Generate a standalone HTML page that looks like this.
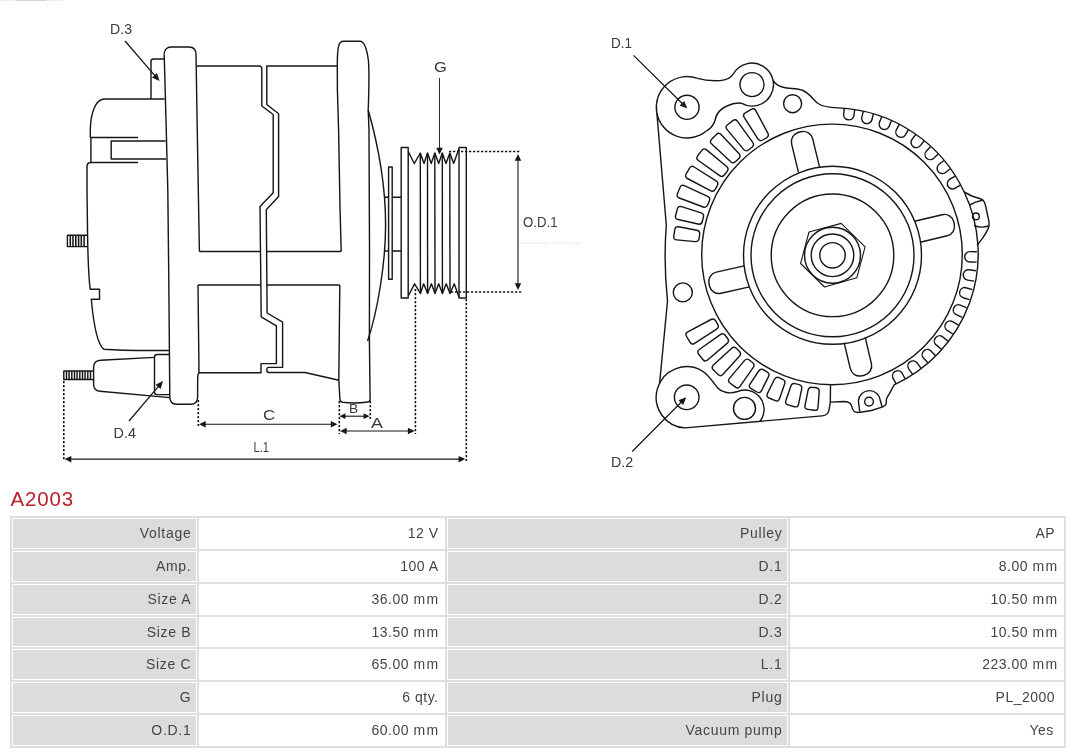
<!DOCTYPE html>
<html><head><meta charset="utf-8"><title>A2003</title>
<style>
html,body{margin:0;padding:0;background:#fff;}
body{width:1080px;height:753px;position:relative;overflow:hidden;font-family:"Liberation Sans",sans-serif;}
.w{position:absolute;left:0;top:0;width:1080px;height:753px;will-change:transform;}
svg{position:absolute;left:0;top:0;}
svg path,svg circle{fill:none;stroke:#161616;stroke-width:1.42;stroke-linejoin:round;stroke-linecap:butt;}
svg path.ah{fill:#161616;stroke:none;}
svg text{font-family:"Liberation Sans",sans-serif;fill:#3a3a3a;stroke:none;}
h1{position:absolute;left:10.5px;top:487px;margin:0;font-size:20.5px;line-height:24px;font-weight:normal;color:#b7202b;letter-spacing:.85px;}
.tb{position:absolute;left:10px;top:516px;width:1056px;height:232px;border:1px solid #dfdfdf;box-sizing:border-box;}
.c{position:absolute;box-sizing:border-box;border:1px solid #dfdfdf;font-size:14px;color:#454545;text-align:right;white-space:nowrap;overflow:hidden;}
.l{background:#dcdcdc;box-shadow:inset 0 0 0 1px #fff;padding-right:5.6px;letter-spacing:.7px;}
.v{background:#fff;padding-right:6.5px;letter-spacing:.5px;}
.u{letter-spacing:1.4px;margin-right:-1.1px;}
</style></head>
<body>
<div class="w">
<svg width="1080" height="480" viewBox="0 0 1080 480">
<path d="M0 0.4 H64" style="stroke:#d6d6d6;stroke-width:1;stroke-dasharray:1 1.4"/>
<path d="M16 0.4 H47" style="stroke:#d0d0d0;stroke-width:1"/>
<g id="left">
<path d="M164.3 59 H153.5 Q151 59 151 61.5 V99"/>
<path d="M164.2 54.5 C164.2 50 167 47 171 47 H189 C193.5 47 196 50 196 54.5 L197.6 150 L199.4 251.5"/>
<path d="M164.2 54.5 L166 120 L167.8 190 L168.8 280 L169.4 350 L169.8 397 Q170 404.2 176.5 404.2 H190.5 Q197.4 404.2 197.6 397.5 L197.7 378 Q197.7 374 199 373 L198 285"/>
<path d="M164.6 99 H104 C96 99.5 90.6 112 90.3 130 V137.5"/>
<path d="M90.3 137.5 H138"/>
<path d="M90.9 137.5 V162.5"/>
<path d="M138 162.5 H90.5 Q87 162.7 87 166.5 L87 190 L87.6 236 C88 262 89 280 90.2 289.2 H99.5 V299.2 H91.3 C93 318 96.5 344 104 349.3 C125 351 150 350.6 169.3 350.5"/>
<path d="M165.6 141 H111.2 V159 H166"/>
<path d="M87.3 235.2 H67.4 V246.6 H87.5"/>
<path d="M70.3 235.2 V246.6" style="stroke-width:1.55"/>
<path d="M73 235.2 V246.6" style="stroke-width:1.55"/>
<path d="M75.8 235.2 V246.6" style="stroke-width:1.55"/>
<path d="M78.6 235.2 V246.6" style="stroke-width:1.55"/>
<path d="M81.3 235.2 V246.6" style="stroke-width:1.55"/>
<path d="M84.1 235.2 V246.6" style="stroke-width:1.55"/>
<path d="M154.5 357.4 L100.5 360.3 Q93.6 360.8 93.6 367.5 V384.5 Q93.6 390.6 100 391.2 L169.8 397.6"/>
<path d="M169.5 354.5 H157 Q154.5 354.5 154.5 357 V392 Q154.5 394.6 157 394.6 H169.8"/>
<path d="M94 371 H63.8 V379.5 H94"/>
<path d="M66.5 371 V379.5" style="stroke-width:1.45"/>
<path d="M69.1 371 V379.5" style="stroke-width:1.45"/>
<path d="M71.8 371 V379.5" style="stroke-width:1.45"/>
<path d="M74.5 371 V379.5" style="stroke-width:1.45"/>
<path d="M77.1 371 V379.5" style="stroke-width:1.45"/>
<path d="M79.8 371 V379.5" style="stroke-width:1.45"/>
<path d="M82.5 371 V379.5" style="stroke-width:1.45"/>
<path d="M85.1 371 V379.5" style="stroke-width:1.45"/>
<path d="M87.8 371 V379.5" style="stroke-width:1.45"/>
<path d="M90.5 371 V379.5" style="stroke-width:1.45"/>
<path d="M196.3 66 H259 Q261.8 66 261.8 69 V106 L273.2 114.5 V192.8 L260 206.5 L261.2 316.8 L276.4 325.8 V363.6 H261 V372.8 H198.8"/>
<path d="M337.4 66 H266.8 V104.5 L278.6 113.8 V196.6 L266.3 209.8 L267.1 313 L282.6 322.2 V367.4 H268.5 Q266.8 367.6 266.8 370 Q266.8 372.5 268.8 372.5 H305 L339 380.2"/>
<path d="M199.4 251.5 H260.6 M267 251.5 H341.2"/>
<path d="M198 285 H260.9 M267 285 H339.8"/>
<path d="M341.2 251.5 L340 207 L338.6 130 L337.4 90 L337.3 66 C337.3 55 338 48 338.8 45.5 Q339.8 41.3 343.5 41.3 H360 C364.5 41.3 367 50 368.4 60.5 C369 68 369 90 368.2 110 L369 130 L369.5 250 L369.4 340 L370.1 399 Q370.2 401.6 367.5 402 C359 403.2 350 403.2 342.5 402.2 Q340 401.8 339.9 399 L338.8 380 L339.8 285"/>
<path d="M368.2 110 C379 148 385.6 190 385.6 225 C385.6 262 378 310 367.6 341"/>
<path d="M388.6 167 H392.2 V279.3 H388.6 Z"/>
<path d="M384.4 197.3 H388.6 M392.2 197.3 H401.2 M384.4 251 H388.6 M392.2 251 H401.2"/>
<path d="M408.2 151.5 V147.5 H401.2 V298 H408.2 V296"/>
<path d="M459 148.5 V147.5 H466.3 V298 H459 V297"/>
<path d="M408.2 151.5 L414.3 163.5 L420.3 153 L424 163.5 L427.5 153 L431.2 163.5 L434.8 153 L438.7 163.5 L442.3 153 L446 163.5 L449.8 153 L453.7 163.5 L459 148.5"/>
<path d="M408.2 296 L414.6 283.8 L420.4 293.5 L423.7 283.8 L427.6 293.5 L431.4 283.8 L435 293.5 L438.7 283.8 L442.4 293.5 L446.2 283.8 L450 293.5 L454.2 283.8 L459 297"/>
<path d="M420.3 153 L420.4 293.5"/>
<path d="M427.5 153 L427.6 293.5"/>
<path d="M434.8 153 L435 293.5"/>
<path d="M442.3 153 L442.4 293.5"/>
<path d="M449.8 153 L450 293.5"/>
<path d="M408.2 151.5 V296 M459 148.5 V297"/>
<path d="M449 151.5 L520.5 151.5" style="stroke-width:1.6;stroke-dasharray:2.25 1.75"/>
<path d="M451 292 L522 292" style="stroke-width:1.6;stroke-dasharray:2.25 1.75"/>
<path d="M518 154 L521.2 160.7 L514.8 160.7 Z" class="ah"/>
<path d="M518 159.4 L518 284.6" style="stroke-width:1.1"/>
<path d="M518 290 L514.8 283.3 L521.2 283.3 Z" class="ah"/>
<path d="M519.5 243.2 L580 243.2" style="stroke-width:1;stroke-dasharray:1 1.7;stroke:#c9c9c9"/>
<path d="M415.4 289 L415.4 434" style="stroke-width:1.6;stroke-dasharray:2.25 1.75"/>
<path d="M466.3 299 L466.3 461" style="stroke-width:1.6;stroke-dasharray:2.25 1.75"/>
<path d="M63.8 381 L63.8 461" style="stroke-width:1.6;stroke-dasharray:2.25 1.75"/>
<path d="M198.3 400 L198.3 426" style="stroke-width:1.6;stroke-dasharray:2.25 1.75"/>
<path d="M339.3 401 L339.3 434" style="stroke-width:1.6;stroke-dasharray:2.25 1.75"/>
<path d="M370.3 401 L370.3 419" style="stroke-width:1.6;stroke-dasharray:2.25 1.75"/>
<path d="M199 424.2 L205.7 420.9 L205.7 427.4 Z" class="ah"/>
<path d="M204.4 424.2 L332.1 424.2" style="stroke-width:1.1"/>
<path d="M337.5 424.2 L330.8 427.4 L330.8 420.9 Z" class="ah"/>
<path d="M339.5 416.2 L345.5 413.3 L345.5 419.1 Z" class="ah"/>
<path d="M344.3 416.2 L364.8 416.2" style="stroke-width:1.1"/>
<path d="M369.6 416.2 L363.6 419.1 L363.6 413.3 Z" class="ah"/>
<path d="M340 431 L346.7 427.8 L346.7 434.2 Z" class="ah"/>
<path d="M345.4 431 L409.2 431" style="stroke-width:1.1"/>
<path d="M414.6 431 L407.9 434.2 L407.9 427.8 Z" class="ah"/>
<path d="M64.6 459.1 L71.3 455.9 L71.3 462.4 Z" class="ah"/>
<path d="M70 459.1 L459.9 459.1" style="stroke-width:1.1"/>
<path d="M465.3 459.1 L458.6 462.4 L458.6 455.9 Z" class="ah"/>
<path d="M439.5 78 L439.5 149.1" style="stroke-width:0.9"/>
<path d="M439.5 154.5 L436.2 147.8 L442.8 147.8 Z" class="ah"/>
<path d="M125 41 L155.5 76.4" style="stroke-width:1.25"/>
<path d="M159.5 81 L152 77.4 L157 73.1 Z" class="ah"/>
<path d="M129 421 L159.1 385.6" style="stroke-width:1.25"/>
<path d="M163 381 L160.6 388.9 L155.6 384.7 Z" class="ah"/>
<text x="110.1" y="34.2" font-size="14.4" textLength="21.9" lengthAdjust="spacingAndGlyphs">D.3</text>
<text x="113.6" y="438.2" font-size="14.4" textLength="22.4" lengthAdjust="spacingAndGlyphs">D.4</text>
<text x="434.1" y="72" font-size="15" textLength="12.9" lengthAdjust="spacingAndGlyphs">G</text>
<text x="523.1" y="227.2" font-size="14.4" textLength="34.5" lengthAdjust="spacingAndGlyphs">O.D.1</text>
<text x="263.1" y="419.8" font-size="14.4" textLength="12.3" lengthAdjust="spacingAndGlyphs">C</text>
<text x="349.1" y="413" font-size="13.6" textLength="9.1" lengthAdjust="spacingAndGlyphs">B</text>
<text x="371.1" y="428.2" font-size="14.4" textLength="11.9" lengthAdjust="spacingAndGlyphs">A</text>
<text x="253.5" y="451.7" font-size="14.4" textLength="15.5" lengthAdjust="spacingAndGlyphs">L.1</text>
</g>
<g id="right">
<circle cx="832" cy="254.4" r="130.3"/>
<circle cx="832.5" cy="255.3" r="89"/>
<circle cx="832.5" cy="255.3" r="81.5"/>
<circle cx="832.5" cy="255.3" r="61.3"/>
<circle cx="832.5" cy="255.3" r="28"/>
<circle cx="832.5" cy="255.3" r="21.3"/>
<circle cx="832.5" cy="255.3" r="12.7"/>
<path d="M841.2 223.4 L865.1 246.8 L856.8 277.8 L824.5 287 L800.6 263.5 L809 232 Z" style="stroke-width:1.1"/>
<path d="M798.5 172.7 L791.6 143.8 A9.6 9.6 0 0 1 798.7 132.3 L801.1 131.7 A9.6 9.6 0 0 1 812.7 138.8 L819.5 166.9"/>
<path d="M914.5 221.2 L942.2 214.7 A9.6 9.6 0 0 1 953.8 221.8 L954.3 224.3 A9.6 9.6 0 0 1 947.2 235.8 L920.2 242.2"/>
<path d="M865.2 337.3 L871.4 363.6 A9.6 9.6 0 0 1 864.3 375.2 L861.9 375.7 A9.6 9.6 0 0 1 850.3 368.6 L844.2 342.8"/>
<path d="M749.5 286.9 L721 293.3 A9.6 9.6 0 0 1 709.5 286 L709 283.5 A9.6 9.6 0 0 1 716.3 272.1 L744.2 265.9"/>
<path d="M699.1 238.5 Q698.6 241.9 695.2 241.6 L676.8 239.9 Q673.4 239.6 673.8 236.2 L674.8 229.5 Q675.2 226.1 678.6 226.8 L696.8 230.2 Q700.1 230.8 699.7 234.2 Z"/>
<path d="M702.3 221.5 Q701.4 224.8 698.1 224 L678 219.5 Q674.7 218.7 675.6 215.5 L677.4 208.9 Q678.3 205.6 681.6 206.7 L701.1 212.9 Q704.3 214 703.4 217.3 Z"/>
<path d="M707.6 205 Q706.3 208.2 703.2 207 L679.3 198 Q676.1 196.8 677.4 193.7 L680 187.4 Q681.3 184.3 684.4 185.7 L707.6 196.4 Q710.7 197.8 709.3 201 Z"/>
<path d="M715.1 189.4 Q713.4 192.3 710.4 190.7 L687.4 178.5 Q684.4 176.9 686.1 174 L689.5 168.1 Q691.2 165.2 694.1 167 L716.1 180.8 Q719 182.7 717.3 185.6 Z"/>
<path d="M724.5 174.8 Q722.4 177.5 719.7 175.6 L698.4 160.5 Q695.7 158.5 697.7 155.8 L701.9 150.4 Q703.9 147.7 706.6 149.9 L726.6 166.5 Q729.2 168.7 727.2 171.4 Z"/>
<path d="M735.7 161.6 Q733.3 164 730.8 161.7 L711.7 144 Q709.2 141.7 711.6 139.3 L716.4 134.5 Q718.8 132.1 721.1 134.6 L738.9 153.6 Q741.2 156.1 738.8 158.5 Z"/>
<path d="M748.5 150 Q745.8 152 743.6 149.4 L727 129.4 Q724.8 126.8 727.5 124.7 L732.9 120.6 Q735.6 118.5 737.5 121.3 L752.7 142.4 Q754.7 145.2 752 147.3 Z"/>
<path d="M762.7 140 Q759.8 141.8 757.9 138.9 L744.2 117.3 Q742.4 114.5 745.4 112.8 L751.2 109.3 Q754.2 107.6 755.8 110.6 L767.8 133.1 Q769.4 136.1 766.5 137.8 Z"/>
<path d="M717.7 324.3 Q719.5 327.3 716.6 329.1 L694.6 343.3 Q691.7 345.2 690 342.2 L686.5 336.4 Q684.8 333.4 687.8 331.8 L711 319.5 Q714 318 715.7 320.9 Z"/>
<path d="M727.6 338.5 Q729.7 341.2 727.1 343.4 L707.5 360 Q704.9 362.2 702.8 359.5 L698.7 354.2 Q696.6 351.5 699.3 349.5 L720.3 334.6 Q723.1 332.7 725.2 335.3 Z"/>
<path d="M739.3 351.3 Q741.7 353.7 739.4 356.2 L722.8 374.5 Q720.5 377 718.1 374.6 L713.3 369.8 Q710.9 367.4 713.4 365.1 L731.5 348.4 Q734 346.1 736.5 348.5 Z"/>
<path d="M752.5 362.5 Q755.2 364.5 753.3 367.3 L740 386.4 Q738.1 389.2 735.4 387.1 L730 383 Q727.3 381 729.5 378.4 L744.4 360.6 Q746.6 358 749.3 360 Z"/>
<path d="M767 371.8 Q770 373.5 768.5 376.6 L761.5 390.7 Q759.9 393.7 757 392 L751.1 388.6 Q748.2 386.9 750 384.1 L758.7 371 Q760.6 368.1 763.6 369.8 Z"/>
<path d="M782.7 379.3 Q785.8 380.6 784.7 383.8 L779.5 398.7 Q778.4 401.9 775.3 400.6 L769 398 Q765.9 396.7 767.4 393.6 L774.3 379.5 Q775.8 376.4 779 377.7 Z"/>
<path d="M799.1 384.6 Q802.4 385.5 801.7 388.9 L798.5 404.3 Q797.8 407.6 794.5 406.7 L788 404.9 Q784.7 404 785.8 400.8 L790.9 385.9 Q792 382.7 795.2 383.6 Z"/>
<path d="M816.1 387.8 Q819.5 388.3 819.2 391.7 L818 407.4 Q817.8 410.8 814.4 410.3 L807.7 409.4 Q804.3 408.9 805 405.6 L808.1 390.2 Q808.8 386.8 812.1 387.3 Z"/>
<circle cx="687" cy="107.3" r="12.1"/>
<circle cx="752" cy="84.6" r="12"/>
<circle cx="792.6" cy="103.7" r="9"/>
<circle cx="682.8" cy="292.4" r="9.5"/>
<circle cx="686.7" cy="397.3" r="12.3"/>
<circle cx="744.5" cy="408.4" r="11"/>
<circle cx="975.9" cy="216.4" r="3.4"/>
<circle cx="869" cy="401.6" r="4.4"/>
<path d="M697.5 78.4 A30.7 30.7 0 1 0 706.7 130.8"/>
<path d="M697.5 78.4 C705 80.6 713 81 720 80.6 C727 80 731 77.5 733.4 73.8"/>
<path d="M733.4 73.8 A21.5 21.5 0 1 1 741.2 103.2"/>
<path d="M741.2 103.2 C735 102.3 731 104 727 106 C721 108.7 716.5 113 715.4 119 C714.2 124.5 711.5 128 706.7 130.8"/>
<path d="M773 80.1 C775 84 778 86 783 87.3 C790 89 797 88 803 90.5 C810 93.5 813 100 818 103.5 C823 107 830 107.6 837.9 107.9 A145.95 145.95 0 0 1 964.2 192 A143.9 143.9 0 0 1 894.1 384.8 L889.3 393.8 Q886.5 398 886.3 400 L886.3 403 Q886 405.6 882.1 407.1 L871.4 410.5 L860.6 412.3 Q855.5 412.9 854 411.3 Q852.4 409.5 851.3 405.1 Q849.5 401.5 843.9 401.5 L830.3 402.1"/>
<path d="M964.2 192 L971.7 196 L981 199 Q984.6 200.4 985.6 206 L989 221.7 Q989.4 226 988.2 228.6 Q986 233.5 982.4 238.4 L977 245.4"/>
<path d="M969.3 205.2 Q975 201.6 982.6 200.3"/>
<path d="M974 225.5 Q981 228.4 988.6 226"/>
<path d="M859.8 412.4 L858.4 401 A11 11 0 0 1 880.3 400.3 L882.1 407"/>
<path d="M830.5 385.2 L830.3 402 L829.2 409 Q828.6 415.2 822 415.9 L685.1 427.9 A30.6 30.6 0 1 1 702 370.8 C708 374 713 382 717.5 387.8 C721 392 729 394.3 736.8 391.8 A19.3 19.3 0 0 1 759.8 421.5"/>
<path d="M656.9 113.2 L666.3 225 Q663.4 262 667.5 301 L659.6 383.2"/>
<path d="M844.4 108.2 L843.6 114.3 A5.2 5.2 0 0 0 853.9 115.6 L854.7 109.5"/>
<path d="M863.4 111.2 L861.8 117.1 A5.2 5.2 0 0 0 871.9 119.7 L873.4 113.8"/>
<path d="M881.8 116.6 L879.5 122.3 A5.2 5.2 0 0 0 889.2 126.2 L891.5 120.5"/>
<path d="M899.4 124.4 L896.4 129.7 A5.2 5.2 0 0 0 905.4 134.9 L908.4 129.6"/>
<path d="M915.8 134.4 L912.1 139.3 A5.2 5.2 0 0 0 920.4 145.6 L924.1 140.8"/>
<path d="M930.7 146.6 L926.4 150.9 A5.2 5.2 0 0 0 933.8 158.2 L938.1 153.9"/>
<path d="M944 160.5 L939.1 164.3 A5.2 5.2 0 0 0 945.5 172.5 L950.3 168.8"/>
<path d="M955.2 176.1 L949.9 179.2 A5.2 5.2 0 0 0 955.2 188.2 L960.4 185.1"/>
<path d="M976.8 251.7 L970 251.6 A5.2 5.2 0 0 0 969.8 262 L976.6 262.1"/>
<path d="M975.9 270.8 L969.2 269.8 A5.2 5.2 0 0 0 967.6 280.1 L974.3 281.1"/>
<path d="M972.5 289.6 L965.9 287.7 A5.2 5.2 0 0 0 963.1 297.7 L969.6 299.6"/>
<path d="M966.6 307.8 L960.4 305.1 A5.2 5.2 0 0 0 956.2 314.6 L962.4 317.3"/>
<path d="M958.4 325.1 L952.6 321.6 A5.2 5.2 0 0 0 947.1 330.4 L952.9 334"/>
<path d="M947.9 341.1 L942.6 336.8 A5.2 5.2 0 0 0 936.1 344.9 L941.4 349.2"/>
<path d="M935.4 355.6 L930.7 350.7 A5.2 5.2 0 0 0 923.2 357.8 L927.9 362.8"/>
<path d="M921.1 368.3 L917.1 362.8 A5.2 5.2 0 0 0 908.7 368.9 L912.7 374.4"/>
<path d="M905.3 379 L902 373 A5.2 5.2 0 0 0 892.9 377.9 L896.1 383.9"/>
<path d="M633.5 55.4 L683 104.3" style="stroke-width:1.25"/>
<path d="M687.3 108.6 L679.6 105.6 L684.2 100.9 Z" class="ah"/>
<path d="M632.2 451.5 L681.9 401.5" style="stroke-width:1.25"/>
<path d="M686.2 397.2 L683.2 404.9 L678.5 400.3 Z" class="ah"/>
<text x="611.1" y="47.8" font-size="14.4" textLength="20.9" lengthAdjust="spacingAndGlyphs">D.1</text>
<text x="611" y="467.4" font-size="14.4" textLength="22.2" lengthAdjust="spacingAndGlyphs">D.2</text>

</g>
</svg>
<h1>A2003</h1>
<div class="tb"></div>
<div class="c l" style="left:11px;top:517.00px;width:187px;height:32.86px;line-height:30.86px;">Voltage</div>
<div class="c v" style="left:198px;top:517.00px;width:248px;height:32.86px;line-height:30.86px;">12 V</div>
<div class="c l" style="left:446px;top:517.00px;width:343px;height:32.86px;line-height:30.86px;">Pulley</div>
<div class="c v" style="left:789px;top:517.00px;width:276px;height:32.86px;line-height:30.86px;padding-right:8.9px;">AP</div>
<div class="c l" style="left:11px;top:549.86px;width:187px;height:32.86px;line-height:30.86px;">Amp.</div>
<div class="c v" style="left:198px;top:549.86px;width:248px;height:32.86px;line-height:30.86px;">100 A</div>
<div class="c l" style="left:446px;top:549.86px;width:343px;height:32.86px;line-height:30.86px;">D.1</div>
<div class="c v" style="left:789px;top:549.86px;width:276px;height:32.86px;line-height:30.86px;">8.00 <span class="u">mm</span></div>
<div class="c l" style="left:11px;top:582.72px;width:187px;height:32.86px;line-height:30.86px;">Size A</div>
<div class="c v" style="left:198px;top:582.72px;width:248px;height:32.86px;line-height:30.86px;">36.00 <span class="u">mm</span></div>
<div class="c l" style="left:446px;top:582.72px;width:343px;height:32.86px;line-height:30.86px;">D.2</div>
<div class="c v" style="left:789px;top:582.72px;width:276px;height:32.86px;line-height:30.86px;">10.50 <span class="u">mm</span></div>
<div class="c l" style="left:11px;top:615.58px;width:187px;height:32.86px;line-height:30.86px;">Size B</div>
<div class="c v" style="left:198px;top:615.58px;width:248px;height:32.86px;line-height:30.86px;">13.50 <span class="u">mm</span></div>
<div class="c l" style="left:446px;top:615.58px;width:343px;height:32.86px;line-height:30.86px;">D.3</div>
<div class="c v" style="left:789px;top:615.58px;width:276px;height:32.86px;line-height:30.86px;">10.50 <span class="u">mm</span></div>
<div class="c l" style="left:11px;top:648.44px;width:187px;height:32.86px;line-height:30.86px;">Size C</div>
<div class="c v" style="left:198px;top:648.44px;width:248px;height:32.86px;line-height:30.86px;">65.00 <span class="u">mm</span></div>
<div class="c l" style="left:446px;top:648.44px;width:343px;height:32.86px;line-height:30.86px;">L.1</div>
<div class="c v" style="left:789px;top:648.44px;width:276px;height:32.86px;line-height:30.86px;">223.00 <span class="u">mm</span></div>
<div class="c l" style="left:11px;top:681.30px;width:187px;height:32.86px;line-height:30.86px;">G</div>
<div class="c v" style="left:198px;top:681.30px;width:248px;height:32.86px;line-height:30.86px;">6 qty.</div>
<div class="c l" style="left:446px;top:681.30px;width:343px;height:32.86px;line-height:30.86px;">Plug</div>
<div class="c v" style="left:789px;top:681.30px;width:276px;height:32.86px;line-height:30.86px;padding-right:8.9px;">PL_2000</div>
<div class="c l" style="left:11px;top:714.16px;width:187px;height:32.86px;line-height:30.86px;">O.D.1</div>
<div class="c v" style="left:198px;top:714.16px;width:248px;height:32.86px;line-height:30.86px;">60.00 <span class="u">mm</span></div>
<div class="c l" style="left:446px;top:714.16px;width:343px;height:32.86px;line-height:30.86px;">Vacuum pump</div>
<div class="c v" style="left:789px;top:714.16px;width:276px;height:32.86px;line-height:30.86px;padding-right:10.2px;">Yes</div>
</div>
</body></html>
